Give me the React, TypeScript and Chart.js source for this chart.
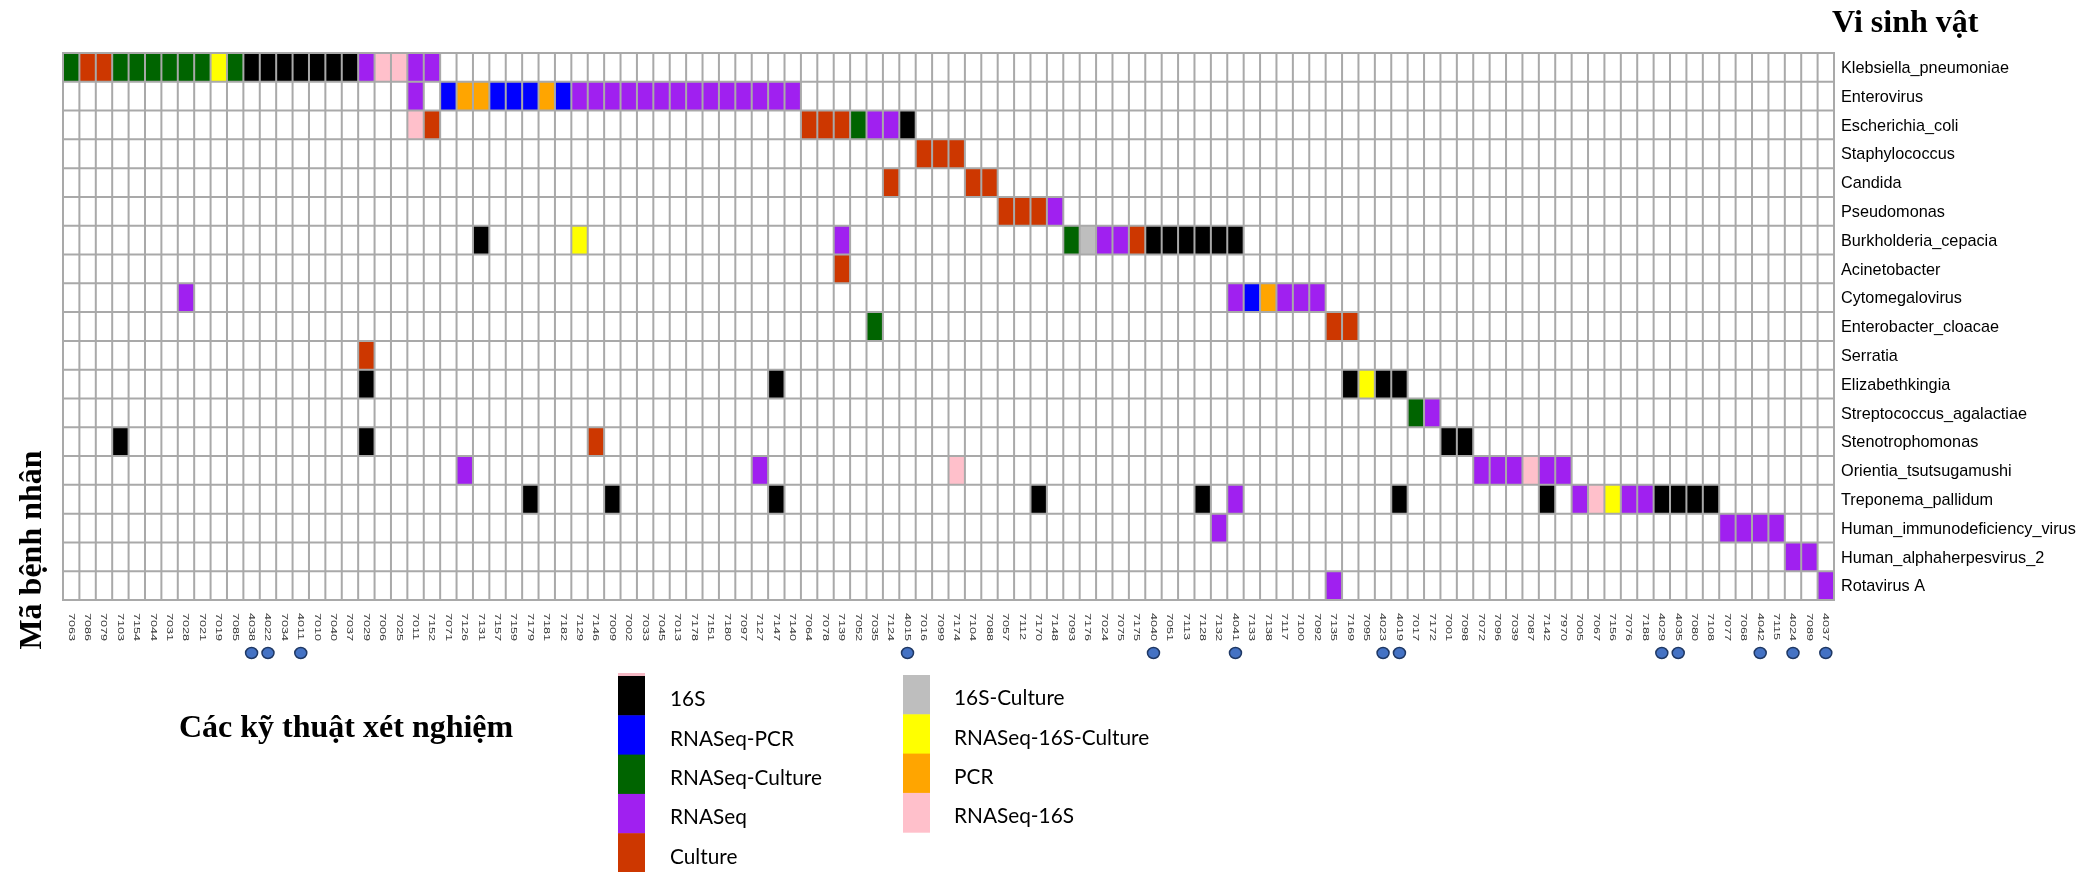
import { useEffect, useRef } from 'react';
import { Chart, registerables } from 'chart.js';

Chart.register(...registerables);

// Patient IDs, left to right
const patients = [
  '7063', '7086', '7079', '7103', '7154', '7044', '7031', '7028', '7021', '7019',
  '7085', '4038', '4022', '7034', '4011', '7010', '7040', '7037', '7029', '7006',
  '7025', '7011', '7152', '7071', '7126', '7131', '7157', '7159', '7179', '7181',
  '7182', '7129', '7146', '7009', '7002', '7033', '7045', '7013', '7178', '7151',
  '7180', '7097', '7127', '7147', '7140', '7064', '7078', '7139', '7052', '7035',
  '7124', '4015', '7016', '7099', '7174', '7104', '7088', '7057', '7112', '7170',
  '7148', '7093', '7176', '7024', '7075', '7175', '4040', '7051', '7113', '7128',
  '7132', '4041', '7133', '7138', '7117', '7100', '7092', '7135', '7169', '7095',
  '4023', '4019', '7017', '7172', '7001', '7098', '7072', '7096', '7039', '7087',
  '7142', '7970', '7005', '7067', '7156', '7076', '7188', '4029', '4035', '7080',
  '7108', '7077', '7068', '4042', '7115', '4024', '7089', '4037',
];

// Patients flagged with a dot under their ID
const markedPatients = [
  '4038', '4022', '4011', '4015', '4040', '4041', '4023', '4019', '4029', '4035',
  '4042', '4024', '4037',
];

// Organisms, top to bottom
const organisms = [
  'Klebsiella_pneumoniae', 'Enterovirus', 'Escherichia_coli', 'Staphylococcus', 'Candida',
  'Pseudomonas', 'Burkholderia_cepacia', 'Acinetobacter', 'Cytomegalovirus',
  'Enterobacter_cloacae', 'Serratia', 'Elizabethkingia', 'Streptococcus_agalactiae',
  'Stenotrophomonas', 'Orientia_tsutsugamushi', 'Treponema_pallidum',
  'Human_immunodeficiency_virus', 'Human_alphaherpesvirus_2', 'Rotavirus A',
];

// Detection techniques and their colours (legend order: first column, then second)
const techniques = [
  '16S', 'RNASeq-PCR', 'RNASeq-Culture', 'RNASeq', 'Culture',
  '16S-Culture', 'RNASeq-16S-Culture', 'PCR', 'RNASeq-16S',
];
const techniqueColors = [
  '#000000', '#0000FF', '#006400', '#A020F0', '#CD3700',
  '#BEBEBE', '#FFFF00', '#FFA500', '#FFC0CB',
];

// Detections per organism: [patient, technique]
type Hit = [string, string];

const klebsiellaPneumoniae: Hit[] = [
  ['7063', 'RNASeq-Culture'], ['7086', 'Culture'], ['7079', 'Culture'],
  ['7103', 'RNASeq-Culture'], ['7154', 'RNASeq-Culture'], ['7044', 'RNASeq-Culture'],
  ['7031', 'RNASeq-Culture'], ['7028', 'RNASeq-Culture'], ['7021', 'RNASeq-Culture'],
  ['7019', 'RNASeq-16S-Culture'], ['7085', 'RNASeq-Culture'],
  ['4038', '16S'], ['4022', '16S'], ['7034', '16S'], ['4011', '16S'], ['7010', '16S'],
  ['7040', '16S'], ['7037', '16S'], ['7029', 'RNASeq'], ['7006', 'RNASeq-16S'],
  ['7025', 'RNASeq-16S'], ['7011', 'RNASeq'], ['7152', 'RNASeq'],
];
const enterovirus: Hit[] = [
  ['7011', 'RNASeq'], ['7071', 'RNASeq-PCR'], ['7126', 'PCR'], ['7131', 'PCR'],
  ['7157', 'RNASeq-PCR'], ['7159', 'RNASeq-PCR'], ['7179', 'RNASeq-PCR'], ['7181', 'PCR'],
  ['7182', 'RNASeq-PCR'], ['7129', 'RNASeq'], ['7146', 'RNASeq'], ['7009', 'RNASeq'],
  ['7002', 'RNASeq'], ['7033', 'RNASeq'], ['7045', 'RNASeq'], ['7013', 'RNASeq'],
  ['7178', 'RNASeq'], ['7151', 'RNASeq'], ['7180', 'RNASeq'], ['7097', 'RNASeq'],
  ['7127', 'RNASeq'], ['7147', 'RNASeq'], ['7140', 'RNASeq'],
];
const escherichiaColi: Hit[] = [
  ['7011', 'RNASeq-16S'], ['7152', 'Culture'], ['7064', 'Culture'], ['7078', 'Culture'],
  ['7139', 'Culture'], ['7052', 'RNASeq-Culture'], ['7035', 'RNASeq'], ['7124', 'RNASeq'],
  ['4015', '16S'],
];
const staphylococcus: Hit[] = [['7016', 'Culture'], ['7099', 'Culture'], ['7174', 'Culture']];
const candida: Hit[] = [['7124', 'Culture'], ['7104', 'Culture'], ['7088', 'Culture']];
const pseudomonas: Hit[] = [
  ['7057', 'Culture'], ['7112', 'Culture'], ['7170', 'Culture'], ['7148', 'RNASeq'],
];
const burkholderiaCepacia: Hit[] = [
  ['7131', '16S'], ['7129', 'RNASeq-16S-Culture'], ['7139', 'RNASeq'],
  ['7093', 'RNASeq-Culture'], ['7176', '16S-Culture'], ['7024', 'RNASeq'], ['7075', 'RNASeq'],
  ['7175', 'Culture'], ['4040', '16S'], ['7051', '16S'], ['7113', '16S'], ['7128', '16S'],
  ['7132', '16S'], ['4041', '16S'],
];
const acinetobacter: Hit[] = [['7139', 'Culture']];
const cytomegalovirus: Hit[] = [
  ['7028', 'RNASeq'], ['4041', 'RNASeq'], ['7133', 'RNASeq-PCR'], ['7138', 'PCR'],
  ['7117', 'RNASeq'], ['7100', 'RNASeq'], ['7092', 'RNASeq'],
];
const enterobacterCloacae: Hit[] = [
  ['7035', 'RNASeq-Culture'], ['7135', 'Culture'], ['7169', 'Culture'],
];
const serratia: Hit[] = [['7029', 'Culture']];
const elizabethkingia: Hit[] = [
  ['7029', '16S'], ['7147', '16S'], ['7169', '16S'], ['7095', 'RNASeq-16S-Culture'],
  ['4023', '16S'], ['4019', '16S'],
];
const streptococcusAgalactiae: Hit[] = [['7017', 'RNASeq-Culture'], ['7172', 'RNASeq']];
const stenotrophomonas: Hit[] = [
  ['7103', '16S'], ['7029', '16S'], ['7146', 'Culture'], ['7001', '16S'], ['7098', '16S'],
];
const orientiaTsutsugamushi: Hit[] = [
  ['7126', 'RNASeq'], ['7127', 'RNASeq'], ['7174', 'RNASeq-16S'], ['7072', 'RNASeq'],
  ['7096', 'RNASeq'], ['7039', 'RNASeq'], ['7087', 'RNASeq-16S'], ['7142', 'RNASeq'],
  ['7970', 'RNASeq'],
];
const treponemaPallidum: Hit[] = [
  ['7179', '16S'], ['7009', '16S'], ['7147', '16S'], ['7170', '16S'], ['7128', '16S'],
  ['4041', 'RNASeq'], ['4019', '16S'], ['7142', '16S'], ['7005', 'RNASeq'],
  ['7067', 'RNASeq-16S'], ['7156', 'RNASeq-16S-Culture'], ['7076', 'RNASeq'],
  ['7188', 'RNASeq'], ['4029', '16S'], ['4035', '16S'], ['7080', '16S'], ['7108', '16S'],
];
const humanImmunodeficiencyVirus: Hit[] = [
  ['7132', 'RNASeq'], ['7077', 'RNASeq'], ['7068', 'RNASeq'], ['4042', 'RNASeq'],
  ['7115', 'RNASeq'],
];
const humanAlphaherpesvirus2: Hit[] = [['4024', 'RNASeq'], ['7089', 'RNASeq']];
const rotavirusA: Hit[] = [['7135', 'RNASeq'], ['4037', 'RNASeq']];

const organismHits: Hit[][] = [
  klebsiellaPneumoniae, enterovirus, escherichiaColi, staphylococcus, candida, pseudomonas,
  burkholderiaCepacia, acinetobacter, cytomegalovirus, enterobacterCloacae, serratia,
  elizabethkingia, streptococcusAgalactiae, stenotrophomonas, orientiaTsutsugamushi,
  treponemaPallidum, humanImmunodeficiencyVirus, humanAlphaherpesvirus2, rotavirusA,
];

const GRID_COLOR = '#A9A9A9';
const SANS = '"Liberation Sans", Arial, sans-serif';
const SERIF = '"Liberation Serif", "Times New Roman", serif';
const LEGEND_FONT = 'Lato, "Open Sans", sans-serif';

// Text drawn with a horizontal squeeze/stretch factor
function fillScaled(ctx: CanvasRenderingContext2D, text: string, x: number, y: number, sx: number) {
  ctx.save();
  ctx.translate(x, y);
  ctx.scale(sx, 1);
  ctx.fillText(text, 0, 0);
  ctx.restore();
}

const gridPlugin = {
  id: 'detectionGrid',
  afterDatasetsDraw(chart: any) {
    const { ctx, chartArea } = chart;
    const xs = chart.scales.x;
    const ys = chart.scales.y;
    const cw = xs.getPixelForValue(0.5) - xs.getPixelForValue(-0.5);
    const ch = ys.getPixelForValue(0.5) - ys.getPixelForValue(-0.5);

    ctx.save();
    // coloured cells
    chart.data.datasets.forEach((ds: any, i: number) => {
      const meta = chart.getDatasetMeta(i);
      ctx.fillStyle = ds.backgroundColor;
      meta.data.forEach((el: any) => {
        ctx.fillRect(el.x - cw / 2, el.y - ch / 2, cw, ch);
      });
    });

    // grid lines
    ctx.strokeStyle = GRID_COLOR;
    ctx.lineWidth = 2;
    ctx.beginPath();
    for (let i = 0; i <= patients.length; i++) {
      const px = xs.getPixelForValue(i - 0.5);
      ctx.moveTo(px, chartArea.top);
      ctx.lineTo(px, chartArea.bottom);
    }
    for (let j = 0; j <= organisms.length; j++) {
      const py = ys.getPixelForValue(j - 0.5);
      ctx.moveTo(chartArea.left - 1, py);
      ctx.lineTo(chartArea.right + 1, py);
    }
    ctx.stroke();
    ctx.restore();
  },
  afterDraw(chart: any) {
    const { ctx, chartArea } = chart;
    const xs = chart.scales.x;
    const ys = chart.scales.y;
    ctx.save();

    // patient IDs, rotated clockwise
    ctx.font = `9.5px ${SANS}`;
    ctx.fillStyle = '#3A3A3A';
    ctx.textAlign = 'left';
    ctx.textBaseline = 'middle';
    const tickStretch = 28 / ctx.measureText('7063').width;
    patients.forEach((p, i) => {
      const px = xs.getPixelForValue(i);
      ctx.save();
      ctx.translate(px, chartArea.bottom + 13);
      ctx.rotate(Math.PI / 2);
      ctx.scale(tickStretch, 1);
      ctx.fillText(p, 0, 0);
      ctx.restore();
    });

    // dots under flagged patients
    markedPatients.forEach((p) => {
      const i = patients.indexOf(p);
      if (i < 0) return;
      const px = xs.getPixelForValue(i);
      ctx.beginPath();
      ctx.ellipse(px, chartArea.bottom + 53, 6, 5.5, 0, 0, Math.PI * 2);
      ctx.fillStyle = '#4472C4';
      ctx.fill();
      ctx.lineWidth = 1.5;
      ctx.strokeStyle = '#1F3864';
      ctx.stroke();
    });

    // organism names on the right
    ctx.font = `17px ${SANS}`;
    ctx.fillStyle = '#000000';
    ctx.textBaseline = 'middle';
    const nameSqueeze = 168 / ctx.measureText('Klebsiella_pneumoniae').width;
    organisms.forEach((o, j) => {
      fillScaled(ctx, o, chartArea.right + 7, ys.getPixelForValue(j) + 1, nameSqueeze);
    });

    // axis titles
    ctx.font = `bold 32px ${SERIF}`;
    ctx.textBaseline = 'alphabetic';
    ctx.textAlign = 'left';
    ctx.fillText('Vi sinh vật', chartArea.right - 2, 32);

    ctx.save();
    ctx.translate(41, 550);
    ctx.rotate(-Math.PI / 2);
    ctx.textAlign = 'center';
    ctx.fillText('Mã bệnh nhân', 0, 0);
    ctx.restore();

    ctx.fillText('Các kỹ thuật xét nghiệm', 179, 737);

    // technique legend, two columns
    const swatchW = 27;
    const swatchH = 39.3;
    const columns = [
      { x: 618, y: 676, labelX: 670, items: [0, 1, 2, 3, 4] },
      { x: 903, y: 675, labelX: 954, items: [5, 6, 7, 8] },
    ];
    ctx.font = `21px ${LEGEND_FONT}`;
    const legendSqueeze = 152 / ctx.measureText('RNASeq-Culture').width;
    ctx.fillStyle = '#F4B8C4';
    ctx.fillRect(columns[0].x, columns[0].y - 3, swatchW, 3);
    columns.forEach((col) => {
      col.items.forEach((t, k) => {
        const top = col.y + k * swatchH;
        ctx.fillStyle = techniqueColors[t];
        ctx.fillRect(col.x, top, swatchW, swatchH + 0.5);
        ctx.fillStyle = '#000000';
        ctx.textBaseline = 'middle';
        fillScaled(ctx, techniques[t], col.labelX, top + swatchH / 2 + 4, legendSqueeze);
      });
    });

    ctx.restore();
  },
};

export default function App() {
  const canvasRef = useRef<HTMLCanvasElement | null>(null);

  useEffect(() => {
    const canvas = canvasRef.current;
    if (!canvas) return;

    const datasets = techniques.map((tech, t) => ({
      label: tech,
      backgroundColor: techniqueColors[t],
      borderColor: techniqueColors[t],
      pointRadius: 0,
      pointHoverRadius: 0,
      data: organismHits.flatMap((hits, row) =>
        hits
          .filter(([, tq]) => tq === tech)
          .map(([p]) => ({ x: patients.indexOf(p), y: row })),
      ),
    }));

    const chart = new Chart(canvas, {
      type: 'scatter',
      data: { datasets },
      plugins: [gridPlugin],
      options: {
        animation: false,
        responsive: false,
        events: [],
        layout: { padding: { left: 63, right: 253, top: 53, bottom: 272 } },
        plugins: {
          legend: { display: false },
          tooltip: { enabled: false },
        },
        scales: {
          x: { type: 'linear', display: false, min: -0.5, max: patients.length - 0.5 },
          y: { type: 'linear', display: false, reverse: true, min: -0.5, max: organisms.length - 0.5 },
        },
      },
    });

    return () => chart.destroy();
  }, []);

  return (
    <div style={{ position: 'fixed', left: 0, top: 0, width: 2087, height: 872, background: '#FFFFFF' }}>
      <canvas ref={canvasRef} width={2087} height={872} style={{ display: 'block' }} />
    </div>
  );
}
